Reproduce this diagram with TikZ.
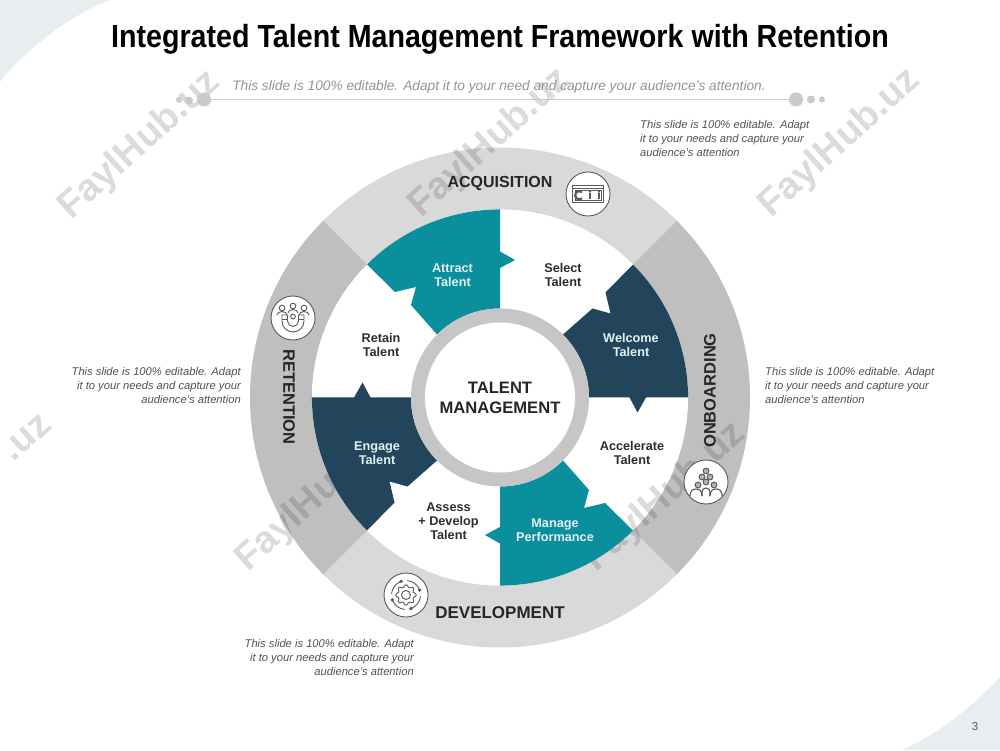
\documentclass[tikz,border=0pt]{standalone}
\usepackage{fontspec}
\setmainfont{Liberation Sans}
\newfontfamily\titlefont[FakeStretch=0.895]{Liberation Sans}
\usetikzlibrary{calc}
\definecolor{teal1}{HTML}{0B8F9C}
\definecolor{navy1}{HTML}{23455C}
\definecolor{ringlight}{HTML}{D9D9D9}
\definecolor{ringdark}{HTML}{BFBFBF}
\definecolor{hubring}{HTML}{C6C6C6}
\definecolor{cornerbg}{HTML}{E8EEF0}
\definecolor{dotgrey}{HTML}{CACACA}
\definecolor{iconink}{HTML}{5A5A5A}
\tikzset{
  x=1pt,y=1pt,
  seg/.style={font=\fontsize{12.7}{14}\selectfont\bfseries,align=center,text=black!82,inner sep=0pt},
  segw/.style={seg,text=white!88!teal1},
  ringlab/.style={font=\fontsize{16.5}{18}\selectfont\bfseries,text=black!85,inner sep=0pt},
  note/.style={font=\fontsize{11.2}{14}\selectfont\itshape,text=black!68,inner sep=0pt},
  iconbg/.style={draw=iconink,fill=white,line width=0.9pt},
  iconline/.style={draw=iconink,line width=0.9pt},
  wm/.style={font=\fontsize{38}{40}\selectfont\bfseries,text=black,text opacity=0.14,rotate=42,inner sep=0pt},
  dotm/.style={fill=dotgrey}
}
\begin{document}
\begin{tikzpicture}
\useasboundingbox (0,0) rectangle (1000,750);
\fill[white] (0,0) rectangle (1000,750);
% corners
\fill[cornerbg] (0,750) -- (110,750) .. controls (70,735) and (25,700) .. (0,668) -- cycle;
\fill[cornerbg] (1000,0) -- (902,0) .. controls (935,14) and (975,45) .. (1000,73) -- cycle;
% wheel ring
\begin{scope}[shift={(500,352.5)}]
  \foreach \r/\c in {0/ringlight,-90/ringdark,-180/ringlight,-270/ringdark}{
    \begin{scope}[rotate=\r]
      \fill[\c] (45:250) arc[start angle=45,end angle=135,radius=250] -- (135:188) arc[start angle=135,end angle=45,radius=188] -- cycle;
    \end{scope}
  }
  \fill[white] (0,0) circle (188);
\end{scope}
% watermarks: they show on white and on the grey ring, not on the coloured segments
\node[wm] (wm1) at (140,605) {FaylHub.uz};
\node[wm] (wm2) at (490,607) {FaylHub.uz};
\node[wm] (wm3) at (840,607) {FaylHub.uz};
\node[wm] (wm4) at (27,312) {.uz};
\node[wm] (wm5) at (317,253) {FaylHub.uz};
\node[wm] (wm6) at (665,253) {FaylHub.uz};
% title
\node[inner sep=0pt,font=\fontsize{32}{34}\selectfont\titlefont\bfseries] (title) at (500,710.5) {Integrated Talent Management Framework with Retention};
\node[inner sep=0pt,font=\fontsize{13.7}{15}\selectfont\itshape,text=black!42] (subtitle) at (499,663.5) {This slide is 100\% editable. Adapt it to your need and capture your audience's attention.};
\coordinate (ruleL) at (204,650.5);
\coordinate (ruleR) at (796,650.5);
\draw[dotgrey,line width=0.8pt] (ruleL) -- (ruleR);
\fill[dotm] (ruleL) circle (7) (189,649.5) circle (4) (179,650) circle (3);
\fill[dotm] (ruleR) circle (7) (811,650.5) circle (4) (822,650.5) circle (3);
% notes
\node[note,anchor=west,align=left] (noteT) at (640,611) {This slide is 100\% editable. Adapt\\it to your needs and capture your\\audience's attention};
\node[note,anchor=west,align=left] (noteR) at (765,364.5) {This slide is 100\% editable. Adapt\\it to your needs and capture your\\audience's attention};
\node[note,anchor=east,align=right] (noteL) at (241,364.5) {This slide is 100\% editable. Adapt\\it to your needs and capture your\\audience's attention};
\node[note,anchor=east,align=right] (noteB) at (414,92.5) {This slide is 100\% editable. Adapt\\it to your needs and capture your\\audience's attention};
% segments and hub
\begin{scope}[shift={(500,352.5)}]
  \foreach \r/\c in {0/teal1,-90/navy1,-180/teal1,-270/navy1}{
    \begin{scope}[rotate=\r]
      \fill[\c] (0,188) -- (0,146) -- (15,137.5) -- (0,129.5) -- (0,89)
        arc[start angle=90,end angle=135,radius=89]
        -- (-89,92.5) -- (-84,110.5) -- (-105,105.5) -- (-133,133)
        arc[start angle=135,end angle=90,radius=188] -- cycle;
    \end{scope}
  }
  \fill[hubring] (0,0) circle (89);
  \fill[white] (0,0) circle (75);
\end{scope}
% labels
\node[inner sep=0pt,align=center,font=\fontsize{16.6}{20}\selectfont\bfseries,text=black!85] (hub) at (500,352) {TALENT\\MANAGEMENT};
\node[segw] (attract) at (452.5,475) {Attract\\Talent};
\node[seg] (select) at (563,475) {Select\\Talent};
\node[segw] (welcome) at (631,405) {Welcome\\Talent};
\node[seg] (accelerate) at (632,297) {Accelerate\\Talent};
\node[segw] (manage) at (555,220) {Manage\\Performance};
\node[seg] (assess) at (448.5,229) {Assess\\+ Develop\\Talent};
\node[segw] (engage) at (377,297) {Engage\\Talent};
\node[seg] (retain) at (381,405) {Retain\\Talent};
\node[ringlab,font=\fontsize{16}{18}\selectfont\bfseries] (acq) at (500,567) {ACQUISITION};
\node[ringlab,font=\fontsize{17}{18}\selectfont\bfseries] (dev) at (500,137) {DEVELOPMENT};
\node[ringlab,rotate=90] (onb) at (710,359.5) {ONBOARDING};
\node[ringlab,rotate=-90] (ret) at (289,353) {RETENTION};
% icon: acquisition
\node[circle,iconbg,minimum size=44pt,inner sep=0pt] (icA) at (588,556) {};
\begin{scope}[shift={(icA.center)}]
  \draw[iconline] (-15.5,-8.5) rectangle (15.5,8.5);
  \draw[iconline,line width=0.6pt] (-15.5,5.5) -- (15.5,5.5) (-13,-6) rectangle (13,3.5);
  \draw[iconink,line width=2.2pt] (-6,2) arc[start angle=50,end angle=310,radius=4.2];
  \foreach \px in {2,11}{
    \fill[iconink] (\px,2.4) circle (1.2);
    \draw[iconink,line width=1.4pt] (\px,1) -- (\px,-5);
  }
\end{scope}
% icon: retention
\node[circle,iconbg,minimum size=44pt,inner sep=0pt] (icR) at (293,432) {};
\begin{scope}[shift={(icR.center)}]
  \draw[iconline] (-11,3) -- (-11,-3) arc[start angle=180,end angle=360,radius=11] -- (11,3) -- (5.5,3) -- (5.5,-3) arc[start angle=360,end angle=180,radius=5.5] -- (-5.5,3) -- cycle;
  \draw[iconline,line width=0.7pt] (-11,-1) -- (-5.5,-1) (11,-1) -- (5.5,-1);
  \foreach \px/\py in {-11/10,0/12,11/10}{
    \draw[iconline,line width=0.9pt] (\px,\py) circle (2.8);
    \draw[iconline,line width=0.9pt] (\px-5,\py-7) arc[start angle=180,end angle=0,x radius=5,y radius=3.5];
  }
  \draw[iconline,line width=0.9pt] (0,1.5) circle (2.4);
\end{scope}
% icon: onboarding
\node[circle,iconbg,minimum size=44pt,inner sep=0pt] (icO) at (706,268) {};
\begin{scope}[shift={(icO.center)}]
  \foreach \px/\py in {0/11,-4/5,4/5,0/0,-8/-3,8/-3}{
    \draw[iconline,line width=1pt,fill=iconink!45] (\px,\py) circle (2.9);
  }
  \foreach \px in {-10,10}{
    \draw[iconline,line width=1.1pt] (\px-6,-14) -- (\px-6,-12) arc[start angle=180,end angle=0,x radius=6,y radius=5] -- (\px+6,-14);
  }
  \draw[iconline,line width=1.1pt] (-4,-14) -- (-4,-10) arc[start angle=180,end angle=0,x radius=4,y radius=4] -- (4,-14);
\end{scope}
% icon: development
\node[circle,iconbg,minimum size=44pt,inner sep=0pt] (icD) at (406,155) {};
\begin{scope}[shift={(icD.center)}]
  \draw[iconline] (0,0) circle (4.5);
  \draw[iconline] plot[smooth cycle,samples=49,domain=0:352.5,variable=\t] ({(9+1.3*cos(8*\t))*cos(\t)},{(9+1.3*cos(8*\t))*sin(\t)});
  \foreach \a in {20,110,200,290}{
    \draw[iconline] (\a:14.5) arc[start angle=\a,end angle=\a+65,radius=14.5];
    \fill[iconink] (\a:14.5) circle (1.9);
  }
\end{scope}
% page number
\node[inner sep=0pt,font=\fontsize{11.5}{13}\selectfont,text=black!65] (page) at (975,23) {3};
\end{tikzpicture}
\end{document}
